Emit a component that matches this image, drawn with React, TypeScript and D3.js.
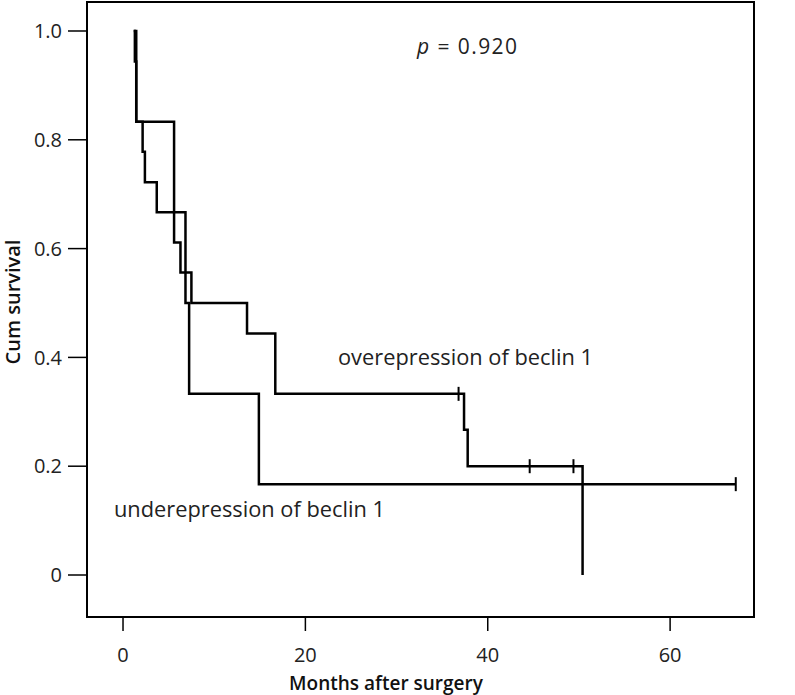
import React from "react";
import * as d3 from "d3";

const xTicks = [0, 20, 40, 60];
const yTicks = [0, 0.2, 0.4, 0.6, 0.8, 1.0];
const yTickLabels = ["0", "0.2", "0.4", "0.6", "0.8", "1.0"];

// overexpression of beclin 1
const overTimes = [1.15, 1.3, 1.45, 2.15, 2.4, 3.7, 5.6, 6.3, 7.5, 13.6, 16.7, 37.4, 37.8, 50.4];
const overSurv = [1.0, 0.944, 0.833, 0.778, 0.722, 0.667, 0.611, 0.556, 0.5, 0.444, 0.333, 0.267, 0.2, 0];
const overCensorTimes = [36.8, 44.6, 49.4];
const overCensorSurv = [0.333, 0.2, 0.2];

// underexpression of beclin 1
const underTimes = [1.2, 1.45, 5.6, 6.85, 7.25, 14.9, 67.2];
const underSurv = [1.0, 0.833, 0.667, 0.5, 0.333, 0.167, 0.167];
const underCensorTimes = [67.2];
const underCensorSurv = [0.167];

const W = 795;
const H = 695;
const FONT = "'Open Sans', 'Noto Sans', sans-serif";

export default function App() {
  const left = 87, right = 754, top = 2, bottom = 617;
  const x = d3.scaleLinear().domain([-3.95, 69.2]).range([left, right]);
  const y = d3.scaleLinear().domain([-0.0772, 1.0533]).range([bottom, top]);

  const line = d3
    .line<[number, number]>()
    .x((d) => x(d[0]))
    .y((d) => y(d[1]))
    .curve(d3.curveStepAfter);

  const overPts = overTimes.map((t, i) => [t, overSurv[i]] as [number, number]);
  const underPts = underTimes.map((t, i) => [t, underSurv[i]] as [number, number]);

  const censor = (ts: number[], ss: number[], key: string) =>
    ts.map((t, i) => (
      <line
        key={key + i}
        x1={x(t)}
        x2={x(t)}
        y1={y(ss[i]) - 7}
        y2={y(ss[i]) + 7}
        stroke="#000"
        strokeWidth={2}
      />
    ));

  return (
    <svg width={W} height={H} style={{ position: "absolute", left: 0, top: 0, background: "#fff" }}>
      <rect x={0} y={0} width={W} height={H} fill="#fff" />
      {/* frame */}
      <rect x={left} y={top} width={right - left} height={bottom - top} fill="none" stroke="#000" strokeWidth={2} />
      {/* y ticks */}
      {yTicks.map((v, i) => (
        <g key={"yt" + i}>
          <line x1={left - 19} x2={left} y1={y(v)} y2={y(v)} stroke="#000" strokeWidth={1.5} />
          <text
            x={62}
            y={y(v)}
            dy="0.36em"
            textAnchor="end"
            fontFamily={FONT}
            fontSize={20}
            fill="#222"
          >
            {yTickLabels[i]}
          </text>
        </g>
      ))}
      {/* x ticks */}
      {xTicks.map((v, i) => (
        <g key={"xt" + i}>
          <line x1={x(v)} x2={x(v)} y1={bottom} y2={bottom + 14} stroke="#000" strokeWidth={1.5} />
          <text
            x={x(v)}
            y={662}
            textAnchor="middle"
            fontFamily={FONT}
            fontSize={20}
            fill="#222"
          >
            {v}
          </text>
        </g>
      ))}
      {/* axis titles */}
      <text x={386} y={690} textAnchor="middle" fontFamily={FONT} fontSize={19} fontWeight={600} fill="#111">
        Months after surgery
      </text>
      <text
        transform={`translate(20,${302}) rotate(-90)`}
        textAnchor="middle"
        fontFamily={FONT}
        fontSize={20}
        fontWeight={600}
        fill="#111"
      >
        Cum survival
      </text>
      {/* curves */}
      <path d={line(underPts) || ""} fill="none" stroke="#000" strokeWidth={2.5} />
      <path d={line(overPts) || ""} fill="none" stroke="#000" strokeWidth={2.5} />
      {censor(overCensorTimes, overCensorSurv, "oc")}
      {censor(underCensorTimes, underCensorSurv, "uc")}
      {/* annotations */}
      <text x={417} y={54} fontFamily={FONT} fontSize={21} fill="#222" textLength={100} lengthAdjust="spacing">
        <tspan fontStyle="italic">p</tspan> = 0.920
      </text>
      <text x={338} y={365} fontFamily={FONT} fontSize={21} fill="#222" textLength={255} lengthAdjust="spacingAndGlyphs">
        overepression of beclin 1
      </text>
      <text x={114} y={517} fontFamily={FONT} fontSize={21} fill="#222" textLength={271} lengthAdjust="spacingAndGlyphs">
        underepression of beclin 1
      </text>
    </svg>
  );
}
